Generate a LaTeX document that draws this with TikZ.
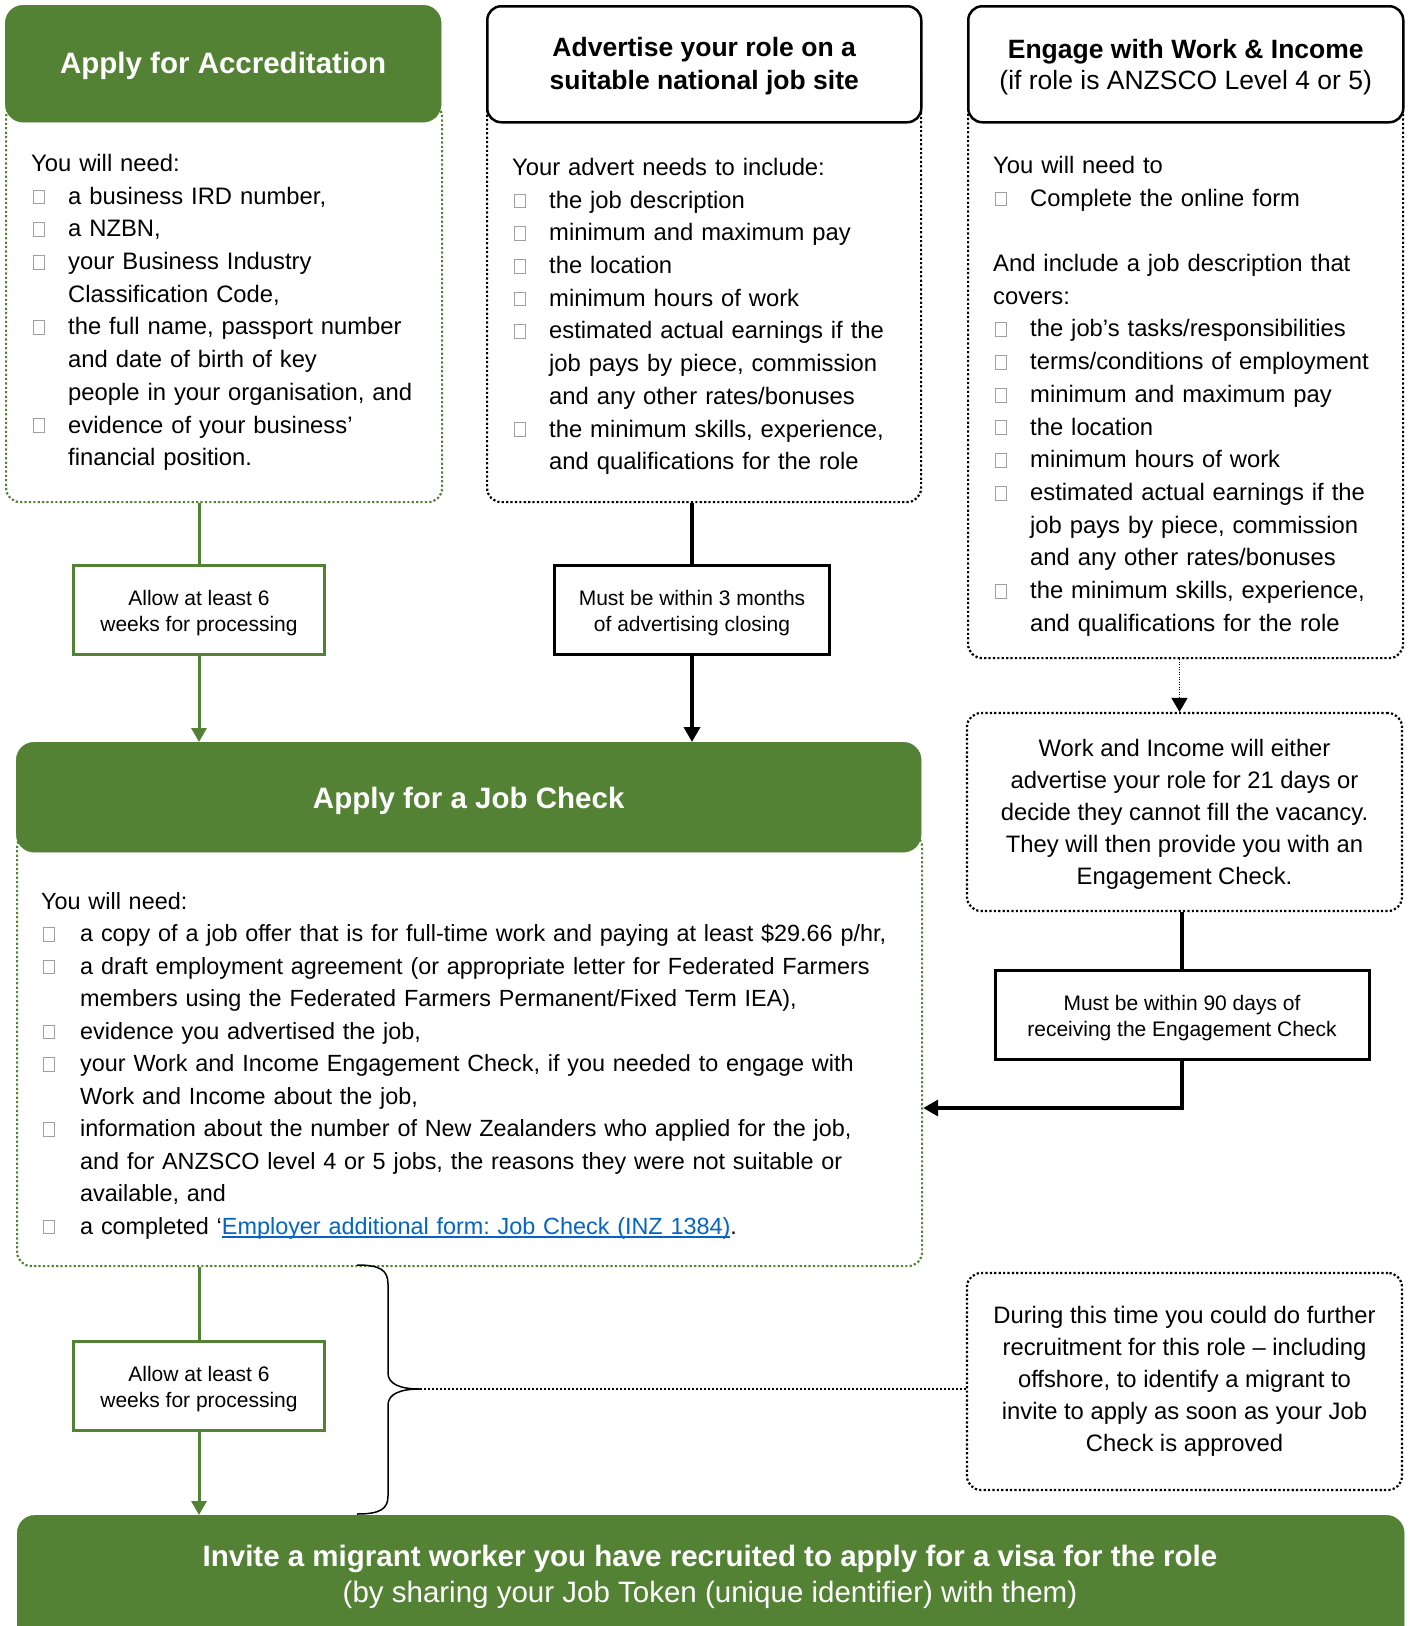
\documentclass[tikz,border=0pt]{standalone}
\usepackage{fontspec}
\setmainfont{Liberation Sans}
\usepackage{xcolor}
\usepackage{tikz}
\usetikzlibrary{arrows.meta,positioning}

\definecolor{jobgreen}{RGB}{84,130,53}
\definecolor{chkgray}{RGB}{160,160,160}
\definecolor{linkblue}{RGB}{5,99,193}

\setlength{\parindent}{0pt}
\frenchspacing
\newcommand{\chkbox}{\raisebox{0.8pt}{\textcolor{chkgray}{\setlength{\fboxsep}{0pt}\setlength{\fboxrule}{0.8pt}\fbox{\rule{0pt}{13pt}\rule{10.5pt}{0pt}}}}}
\newcommand{\itm}{\par\hangindent=37pt\hangafter=1\noindent\makebox[37pt][l]{\hspace{1.5pt}\chkbox}}
\newcommand{\jitm}{\par\hangindent=39pt\hangafter=1\noindent\makebox[39pt][l]{\hspace{1.5pt}\chkbox}}
\newcommand{\lnk}[1]{\textcolor{linkblue}{\setbox0\hbox{#1}\rlap{\rule[-3.5pt]{\wd0}{1.6pt}}\box0}}
\newcommand{\tstrut}{\rule{0pt}{22pt}}

\begin{document}
\begin{tikzpicture}[x=1pt, y=-1pt,
    hdgreen/.style={fill=jobgreen, draw=jobgreen, rounded corners=18pt, anchor=north west, inner sep=0pt},
    hdwhite/.style={fill=white, draw=black, line width=2.5pt, rounded corners=14pt, anchor=north west, inner sep=0pt,
      align=center, font=\fontsize{26.5}{33}\selectfont},
    hdtext/.style={text=white, align=center, font=\fontsize{29.5}{36}\selectfont\bfseries},
    bodygreen/.style={draw=jobgreen, line width=2.2pt, dash pattern=on 2.2pt off 2.2pt, rounded corners=14pt, anchor=north west, inner sep=0pt},
    bodyblack/.style={bodygreen, draw=black},
    bodytext/.style={anchor=north west, inner sep=0pt, align=left, font=\fontsize{23.8}{32.7}\selectfont},
    midtext/.style={align=center, font=\fontsize{23.8}{31.9}\selectfont},
    gbox/.style={draw=jobgreen, line width=3pt, fill=white, minimum height=89pt, align=center, font=\fontsize{21}{26}\selectfont},
    kbox/.style={gbox, draw=black},
    gline/.style={draw=jobgreen, line width=3pt},
    garrow/.style={gline, -{Triangle[width=15pt,length=14pt]}},
    kline/.style={draw=black, line width=3.5pt},
    karrow/.style={kline, -{Triangle[width=16pt,length=15pt]}},
    dotarrow/.style={draw=black, line width=1pt, dash pattern=on 1pt off 1.5pt, -{Triangle[width=16pt,length=14pt]}}]

    \useasboundingbox (0,0) rectangle (1410,1626);

    \node[bodygreen, minimum width=436pt, minimum height=399pt] (accB) at (5,102) {};
    \node[hdgreen, minimum width=436pt, minimum height=117pt] (accH) at (5,5) {};
    \node[hdtext] at ([yshift=-2.5pt]accH.center) {Apply for Accreditation};
    \node[bodytext, text width=400pt] (accT) at (31,154) {You will need:
        \itm a business IRD number,
        \itm a NZBN,
        \itm your Business Industry\newline Classification Code,
        \itm the full name, passport number\newline and date of birth of key\newline people in your organisation, and
        \itm evidence of your business’\newline financial position.\par};

    \node[bodyblack, minimum width=434pt, minimum height=440pt] (advB) at (486,61) {};
    \node[hdwhite, minimum width=434pt, minimum height=116pt] (advH) at (486,5) {\rule{0pt}{23pt}\textbf{Advertise your role on a}\\\textbf{suitable national job site}};
    \node[bodytext, text width=400pt] (advT) at (512,158) {Your advert needs to include:
        \itm the job description
        \itm minimum and maximum pay
        \itm the location
        \itm minimum hours of work
        \itm estimated actual earnings if the\newline job pays by piece, commission\newline and any other rates/bonuses
        \itm the minimum skills, experience,\newline and qualifications for the role\par};

    \node[bodyblack, minimum width=435pt, minimum height=596pt] (engB) at (967,61) {};
    \node[hdwhite, minimum width=435pt, minimum height=116pt] (engH) at (967,5) {\rule{0pt}{25pt}\textbf{Engage with Work \& Income}\\[-2pt](if role is ANZSCO Level 4 or 5)};
    \node[bodytext, text width=400pt] (engT) at (993,156) {You will need to
        \itm Complete the online form\par\mbox{}\par
        And include a job description that\newline covers:
        \itm the job’s tasks/responsibilities
        \itm terms/conditions of employment
        \itm minimum and maximum pay
        \itm the location
        \itm minimum hours of work
        \itm estimated actual earnings if the\newline job pays by piece, commission\newline and any other rates/bonuses
        \itm the minimum skills, experience,\newline and qualifications for the role\par};

    \node[gbox, minimum width=251pt] (alw1) at (199,609.5) {\tstrut Allow at least 6\\weeks for processing};
    \node[kbox, minimum width=275pt] (m3) at (692,609.5) {\tstrut Must be within 3 months\\of advertising closing};

    \node[bodygreen, minimum width=905pt, minimum height=433pt] (jcB) at (16,832) {};
    \node[hdgreen, minimum width=905pt, minimum height=110pt] (jcH) at (16,742) {};
    \node[hdtext] at ([yshift=-4pt]jcH.center) {Apply for a Job Check};
    \node[bodytext, text width=870pt, font=\fontsize{23.4}{32.5}\selectfont] (jcT) at (41,892) {You will need:
        \jitm a copy of a job offer that is for full-time work and paying at least \$29.66 p/hr,
        \jitm a draft employment agreement (or appropriate letter for Federated Farmers\newline members using the Federated Farmers Permanent/Fixed Term IEA),
        \jitm evidence you advertised the job,
        \jitm your Work and Income Engagement Check, if you needed to engage with\newline Work and Income about the job,
        \jitm information about the number of New Zealanders who applied for the job,\newline and for ANZSCO level 4 or 5 jobs, the reasons they were not suitable or\newline available, and
        \jitm a completed ‘\lnk{Employer additional form: Job Check (INZ 1384)}.\par};

    \node[bodyblack, anchor=center, minimum width=435pt, minimum height=198pt, midtext] (wiB) at (1184.5,812) {\rule{0pt}{21.5pt}Work and Income will either\\advertise your role for 21 days or\\decide they cannot fill the vacancy.\\They will then provide you with an\\Engagement Check.};
    \node[kbox, minimum width=374pt] (d90) at (1182,1014.5) {\tstrut Must be within 90 days of\\receiving the Engagement Check};

    \node[gbox, minimum width=251pt] (alw2) at (199,1386) {\tstrut Allow at least 6\\weeks for processing};
    \node[bodyblack, anchor=center, minimum width=435pt, minimum height=217pt, midtext] (durB) at (1184.5,1381.5) {During this time you could do further\\recruitment for this role – including\\offshore, to identify a migrant to\\invite to apply as soon as your Job\\Check is approved};

    \node[hdgreen, minimum width=1387pt, minimum height=170pt] (invH) at (17,1515) {};
    \node[hdtext] (invT) at (710,1577) {Invite a migrant worker you have recruited to apply for a visa for the role\\{\mdseries (by sharing your Job Token (unique identifier) with them)}};

    \coordinate (brTop) at (357,1265);
    \coordinate (brBot) at (357,1514);
    \coordinate (brTip) at (420,1389);
    \coordinate (wiIn) at ([xshift=-5pt]wiB.north);
    \coordinate (jcIn) at (jcB.east |- 0,1108);

    \draw[gline] (alw1.north |- accB.south) -- (alw1.north);
    \draw[garrow] (alw1.south) -- (alw1.south |- jcH.north);
    \draw[kline] (m3.north |- advB.south) -- (m3.north);
    \draw[karrow] (m3.south) -- (m3.south |- jcH.north);
    \draw[dotarrow] (wiIn |- engB.south) -- (wiIn);
    \draw[kline] (d90.north |- wiB.south) -- (d90.north);
    \draw[karrow] (d90.south) |- (jcIn);
    \draw[gline] (alw2.north |- jcB.south) -- (alw2.north);
    \draw[garrow] (alw2.south) -- (alw2.south |- invH.north);
    \draw[line width=1.5pt] (brTop) .. controls (380,1265) and (388,1270) .. (388,1284) -- (388,1373)
        .. controls (388,1384) and (400,1389) .. (brTip) .. controls (400,1389) and (388,1394) .. (388,1405)
        -- (388,1496) .. controls (388,1509) and (380,1514) .. (brBot);
    \draw[line width=2pt, dash pattern=on 2pt off 2pt] (brTip) -- (brTip -| durB.west);
\end{tikzpicture}
\end{document}
